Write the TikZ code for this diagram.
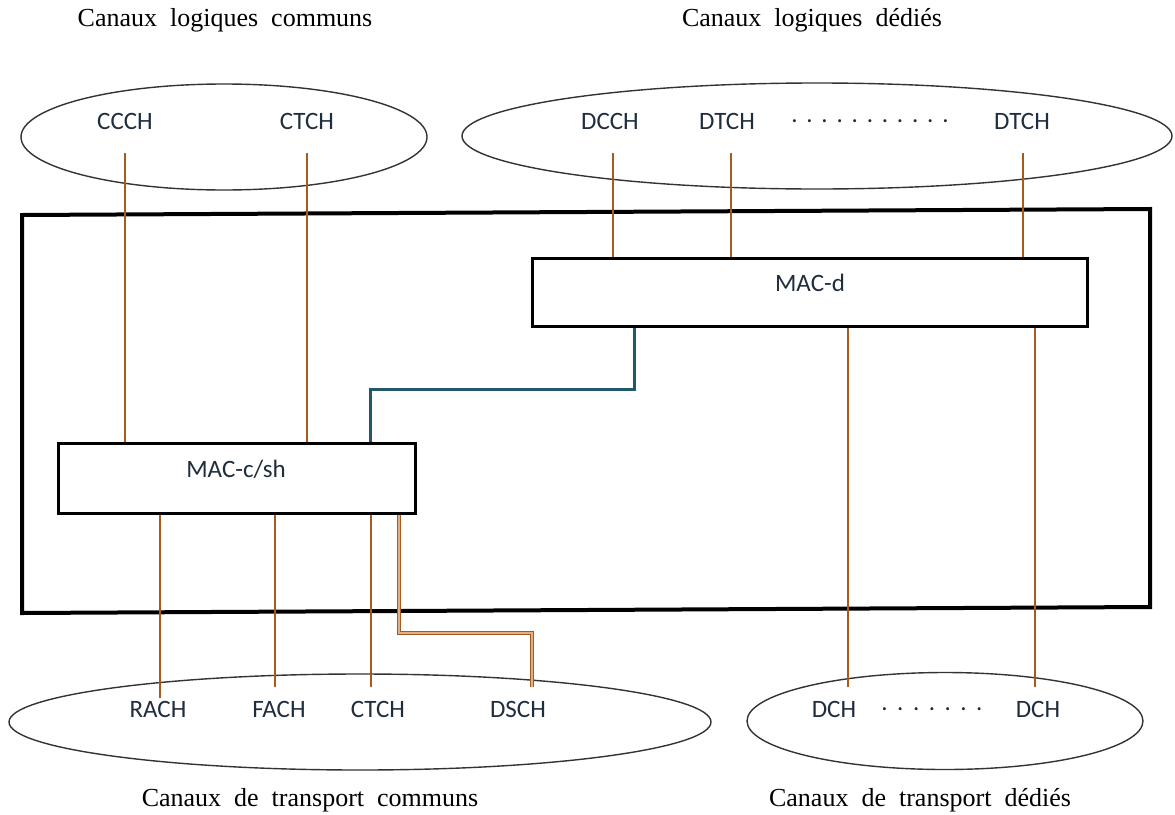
\documentclass[tikz,border=0pt]{standalone}
\usepackage{fontspec}
\setmainfont{Liberation Serif}
\newfontfamily\lblfont{Carlito}
\usetikzlibrary{shapes.geometric}
\definecolor{chbrown}{HTML}{A65A1E}
\definecolor{chlight}{HTML}{DDB08A}
\definecolor{chteal}{HTML}{22586B}
\definecolor{lbltext}{HTML}{1F2D3D}
\newcommand{\dotrow}[2]{\foreach \k in {1,...,#1}{\ifnum\k>1\hspace{#2}\fi.}}
\begin{document}
\begin{tikzpicture}[x=1pt,y=-1pt,
  heading/.style={font=\fontsize{26}{30}\selectfont, text=black, inner sep=0pt},
  lbl/.style={font=\lblfont\fontsize{25}{30}\selectfont, text=lbltext, inner sep=0pt},
  oval/.style={draw=black!80, line width=1.4pt, ellipse, inner sep=0pt},
  macbox/.style={draw=black, line width=3pt, fill=white, inner sep=0pt},
  ch/.style={draw=chbrown, line width=2.8pt},
  chdouble/.style={draw=chbrown, line width=1.3pt, double=chlight, double distance=1.2pt},
  link/.style={draw=chteal, line width=3pt},
  frame/.style={draw=black, line width=4pt, line join=miter}]
\useasboundingbox (0,0) rectangle (1175,814);

% headings
\node[heading] (h1) at (225,20) {Canaux\ \ logiques\ \ communs};
\node[heading] (h2) at (812,20) {Canaux\ \ logiques\ \ dédiés};
\node[heading] (h3) at (310,800) {Canaux\ \ de\ \ transport\ \ communs};
\node[heading] (h4) at (920,800) {Canaux\ \ de\ \ transport\ \ dédiés};

% ellipses
\node[oval, minimum width=406pt, minimum height=106pt] (e1) at (224,137) {};
\node[oval, minimum width=710pt, minimum height=106pt] (e2) at (817,136) {};
\node[oval, minimum width=702pt, minimum height=96pt] (e3) at (360,722) {};
\node[oval, minimum width=396pt, minimum height=97pt] (e4) at (945,721) {};

% outer frame (slightly tilted)
\coordinate (f1) at (22,215);
\coordinate (f2) at (1150,209);
\coordinate (f3) at (1150,607);
\coordinate (f4) at (22,613);
\draw[frame] (f1) -- (f2) -- (f3) -- (f4) -- cycle;

% top labels
\node[lbl] (ccch) at (125,121) {CCCH};
\node[lbl] (ctcht) at (307,121) {CTCH};
\node[lbl] (dcch) at (610,121) {DCCH};
\node[lbl] (dtch1) at (727,121) {DTCH};
\node[lbl] (dotst) at (870,121) {.\hspace{8.8pt}.\hspace{8.8pt}.\hspace{8.8pt}.\hspace{8.8pt}.\hspace{8.8pt}.\hspace{8.8pt}.\hspace{8.8pt}.\hspace{8.8pt}.\hspace{8.8pt}.\hspace{8.8pt}.};
\node[lbl] (dtch2) at (1022,121) {DTCH};

% bottom labels
\node[lbl] (rach) at (158,709) {RACH};
\node[lbl] (fach) at (279,709) {FACH};
\node[lbl] (ctchb) at (378,709) {CTCH};
\node[lbl] (dsch) at (518,709) {DSCH};
\node[lbl] (dch1) at (834,709) {DCH};
\node[lbl] (dotsb) at (932,709) {.\hspace{9.5pt}.\hspace{9.5pt}.\hspace{9.5pt}.\hspace{9.5pt}.\hspace{9.5pt}.\hspace{9.5pt}.};
\node[lbl] (dch2) at (1038,709) {DCH};

% line end points
\coordinate (a1) at (125,153);
\coordinate (a2) at (307,153);
\coordinate (a3) at (613,153);
\coordinate (a4) at (731,153);
\coordinate (a5) at (1023,153);
\coordinate (b1) at (160,698);
\coordinate (b2) at (275,687);
\coordinate (b3) at (371,687);
\coordinate (b4) at (532,687);
\coordinate (b5) at (848,687);
\coordinate (b6) at (1035,687);

% connectors (drawn before boxes)
\draw[ch] (a1) -- (125,443);
\draw[ch] (a2) -- (307,443);
\draw[ch] (a3) -- (613,258);
\draw[ch] (a4) -- (731,258);
\draw[ch] (a5) -- (1023,258);
\draw[ch] (160,513) -- (b1);
\draw[ch] (275,513) -- (b2);
\draw[ch] (371,513) -- (b3);
\draw[chdouble] (399,513) -- (399,633) -- (532,633) -- (b4);
\draw[ch] (848,326) -- (b5);
\draw[ch] (1035,326) -- (b6);
\draw[link] (634,326) -- (634,389) -- (370,389) -- (370,443);

% MAC boxes
\node[macbox, minimum width=555pt, minimum height=68pt] (macd) at (809.5,292) {};
\node[lbl] (macdt) at (810,283) {MAC-d};
\node[macbox, minimum width=357pt, minimum height=70pt] (macc) at (236.5,478) {};
\node[lbl] (macct) at (236,469) {MAC-c/sh};
\end{tikzpicture}
\end{document}
